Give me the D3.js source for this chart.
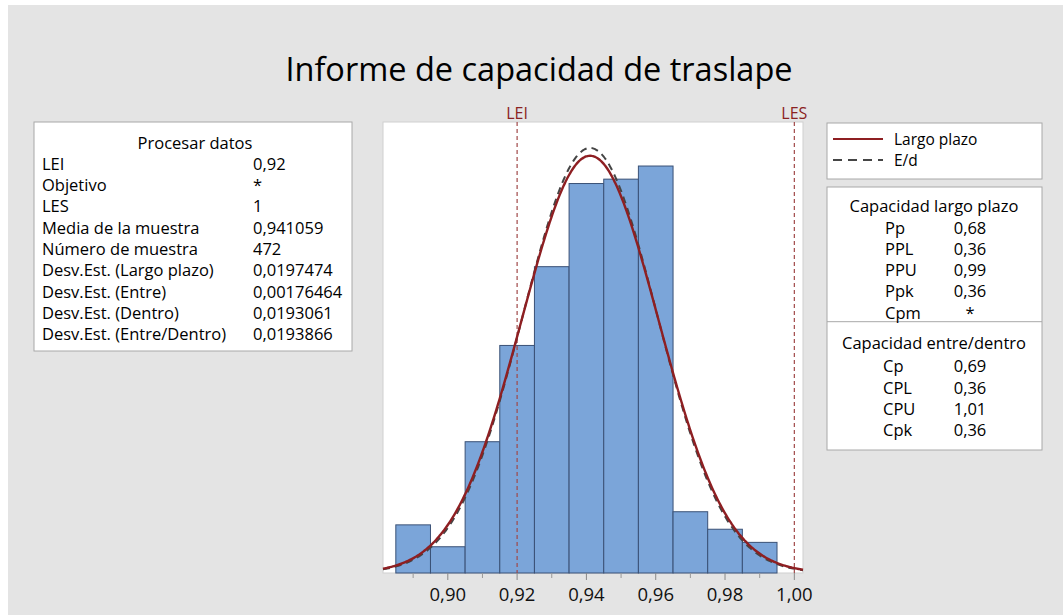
<!DOCTYPE html>
<html>
<head>
<meta charset="utf-8">
<script src="https://cdn.jsdelivr.net/npm/d3@7"></script>
<style>
  html, body { margin: 0; padding: 0; background: #fff; }
  svg { display: block; font-family: "Open Sans", "Noto Sans", sans-serif; }
</style>
</head>
<body>
<div id="chart"></div>
<script>
// ---- data ----
const binCenters = [0.89, 0.90, 0.91, 0.92, 0.93, 0.94, 0.95, 0.96, 0.97, 0.98, 0.99];
const binCounts  = [11, 6, 30, 52, 70, 89, 90, 93, 14, 10, 7];
const binWidth = 0.01;
const sampleN = 472;
const sampleMean = 0.941059;
const sdLongTerm = 0.0197474;   // "Largo plazo"
const sdWithin = 0.0193866;     // "E/d" (entre/dentro)
const LEI = 0.92, LES = 1.0;
const xTicks = [0.90, 0.92, 0.94, 0.96, 0.98, 1.00];
const xMinorTicks = [0.89, 0.91, 0.93, 0.95, 0.97, 0.99];

const processLabels = ["LEI", "Objetivo", "LES", "Media de la muestra", "Número de muestra",
  "Desv.Est. (Largo plazo)", "Desv.Est. (Entre)", "Desv.Est. (Dentro)", "Desv.Est. (Entre/Dentro)"];
const processValues = ["0,92", "*", "1", "0,941059", "472", "0,0197474", "0,00176464", "0,0193061", "0,0193866"];

const overallLabels = ["Pp", "PPL", "PPU", "Ppk", "Cpm"];
const overallValues = ["0,68", "0,36", "0,99", "0,36", "*"];
const withinLabels = ["Cp", "CPL", "CPU", "Cpk"];
const withinValues = ["0,69", "0,36", "1,01", "0,36"];

const legendItems = [
  { label: "Largo plazo", sd: sdLongTerm, color: "#8e1f22", dash: null },
  { label: "E/d", sd: sdWithin, color: "#454545", dash: "7,5" }
];

// ---- drawing ----
const W = 1063, H = 615;
const svg = d3.select('#chart').append('svg').attr('width', W).attr('height', H);

// grey panel
svg.append('rect').attr('x', 8).attr('y', 5).attr('width', W - 8).attr('height', H - 5)
  .attr('fill', '#e4e4e4');

svg.append('text')
  .attr('x', 539).attr('y', 70).attr('dy', '0.35em')
  .attr('text-anchor', 'middle')
  .attr('font-size', 32.5).attr('fill', '#000')
  .text('Informe de capacidad de traslape');

const loc = d3.formatLocale({ decimal: ",", thousands: ".", grouping: [3], currency: ["", ""] });
const fmt2 = loc.format(".2f");

// plot region
const plot = { x0: 383, x1: 803, y0: 122, y1: 573 };
const x = d3.scaleLinear().domain([0.8813, 1.0025]).range([plot.x0, plot.x1]);
const y = d3.scaleLinear().domain([0, 103.06]).range([plot.y1, plot.y0]);

svg.append('rect')
  .attr('x', plot.x0).attr('y', plot.y0)
  .attr('width', plot.x1 - plot.x0).attr('height', plot.y1 - plot.y0)
  .attr('fill', '#fff').attr('stroke', '#cfcfcf').attr('stroke-width', 1);

const g = svg.append('g');

// bars
g.selectAll('rect.bar')
  .data(binCenters.map((c, i) => ({ c, n: binCounts[i] })))
  .join('rect')
  .attr('class', 'bar')
  .attr('x', d => x(d.c - binWidth / 2))
  .attr('width', d => x(d.c + binWidth / 2) - x(d.c - binWidth / 2))
  .attr('y', d => y(d.n))
  .attr('height', d => y(0) - y(d.n))
  .attr('fill', '#7ba5d9')
  .attr('stroke', '#3a5176')
  .attr('stroke-width', 1);

// spec limits
[{ v: LEI, t: 'LEI' }, { v: LES, t: 'LES' }].forEach(s => {
  g.append('line')
    .attr('x1', x(s.v)).attr('x2', x(s.v))
    .attr('y1', plot.y0).attr('y2', plot.y1)
    .attr('stroke', '#a04848').attr('stroke-width', 1.2)
    .attr('stroke-dasharray', '4,3');
  svg.append('text')
    .attr('x', x(s.v)).attr('y', 113).attr('dy', '0.35em')
    .attr('text-anchor', 'middle').attr('font-size', 16)
    .attr('fill', '#8b2222').text(s.t);
});

// fitted normal curves (scaled to counts)
const pdf = (v, sd) => Math.exp(-0.5 * ((v - sampleMean) / sd) ** 2) / (sd * Math.sqrt(2 * Math.PI));
const xs = d3.range(0, 301).map(i => x.domain()[0] + (x.domain()[1] - x.domain()[0]) * i / 300);
const line = d3.line().x(d => x(d[0])).y(d => y(d[1])).curve(d3.curveBasis);

legendItems.slice().reverse().forEach(item => {
  g.append('path')
    .datum(xs.map(v => [v, sampleN * binWidth * pdf(v, item.sd)]))
    .attr('d', line)
    .attr('fill', 'none')
    .attr('stroke', item.color)
    .attr('stroke-width', item.dash ? 2 : 2.4)
    .attr('stroke-dasharray', item.dash);
});

// x axis (no domain line, just ticks)
const ax = svg.append('g').attr('transform', `translate(0,${plot.y1})`);
ax.selectAll('line.major').data(xTicks).join('line')
  .attr('x1', d => x(d)).attr('x2', d => x(d))
  .attr('y1', 0).attr('y2', 7).attr('stroke', '#888');
ax.selectAll('line.minor').data(xMinorTicks).join('line')
  .attr('x1', d => x(d)).attr('x2', d => x(d))
  .attr('y1', 0).attr('y2', 5).attr('stroke', '#999');
ax.selectAll('text').data(xTicks).join('text')
  .attr('x', d => x(d)).attr('y', 22).attr('dy', '0.35em')
  .attr('text-anchor', 'middle').attr('font-size', 18.5).attr('fill', '#111')
  .text(d => fmt2(d));

// ---- left table ----
const box = (x0, y0, x1, y1) => svg.append('rect')
  .attr('x', x0).attr('y', y0).attr('width', x1 - x0).attr('height', y1 - y0)
  .attr('fill', '#fff').attr('stroke', '#a8a8a8').attr('stroke-width', 1);

box(34, 122, 352, 351);
const tfs = 16.5;
svg.append('text').attr('x', 195).attr('y', 143).attr('dy', '0.35em')
  .attr('text-anchor', 'middle').attr('font-size', tfs).attr('fill', '#000')
  .text('Procesar datos');
processLabels.forEach((lab, i) => {
  const yy = 164 + i * 21.3;
  svg.append('text').attr('x', 42).attr('y', yy).attr('dy', '0.35em')
    .attr('font-size', tfs).attr('fill', '#000').text(lab);
  svg.append('text').attr('x', 253).attr('y', yy).attr('dy', '0.35em')
    .attr('font-size', tfs).attr('fill', '#000').text(processValues[i]);
});

// ---- legend ----
box(827, 123, 1042, 179);
legendItems.forEach((item, i) => {
  const yy = 140 + i * 21;
  svg.append('line').attr('x1', 833).attr('x2', 883).attr('y1', yy - 1).attr('y2', yy - 1)
    .attr('stroke', item.color).attr('stroke-width', 2)
    .attr('stroke-dasharray', item.dash ? '9,6' : null);
  svg.append('text').attr('x', 894).attr('y', yy).attr('dy', '0.35em')
    .attr('font-size', 15.5).attr('fill', '#000').text(item.label);
});

// ---- capability table ----
box(827, 187, 1042, 450);
svg.append('line').attr('x1', 827).attr('x2', 1042).attr('y1', 321.7).attr('y2', 321.7)
  .attr('stroke', '#a8a8a8');

function capBlock(title, ty, labels, values, y0, labX) {
  svg.append('text').attr('x', 934).attr('y', ty).attr('dy', '0.35em')
    .attr('text-anchor', 'middle').attr('font-size', tfs).attr('fill', '#000').text(title);
  labels.forEach((lab, i) => {
    const yy = y0 + i * 21.2;
    svg.append('text').attr('x', labX).attr('y', yy).attr('dy', '0.35em')
      .attr('font-size', tfs).attr('fill', '#000').text(lab);
    svg.append('text').attr('x', 970).attr('y', yy).attr('dy', '0.35em')
      .attr('text-anchor', 'middle').attr('font-size', tfs).attr('fill', '#000').text(values[i]);
  });
}
capBlock('Capacidad largo plazo', 206, overallLabels, overallValues, 228, 885);
capBlock('Capacidad entre/dentro', 343, withinLabels, withinValues, 366.7, 883);
</script>
</body>
</html>
